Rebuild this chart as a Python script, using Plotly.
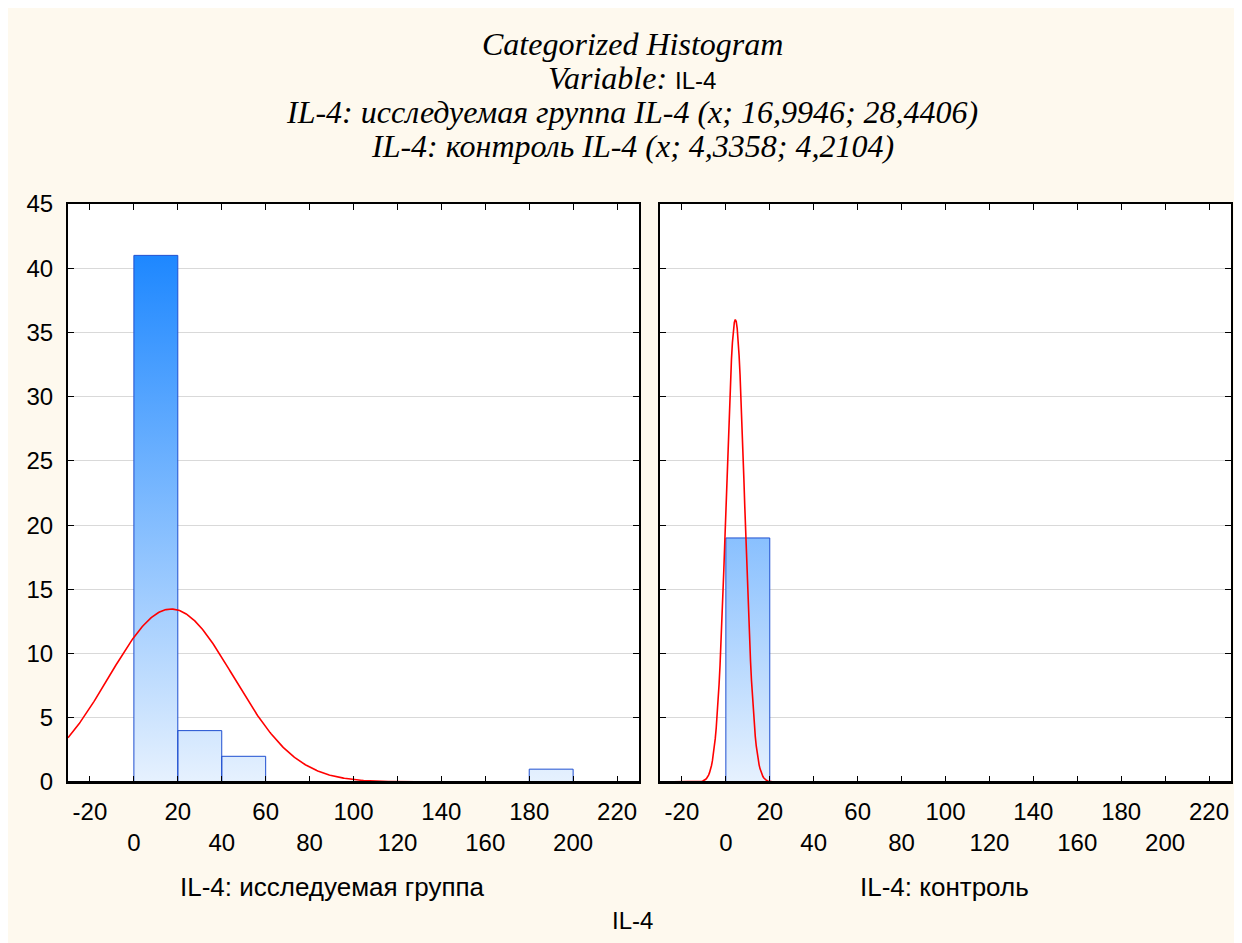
import numpy as np
import plotly.graph_objects as go

# ---------------- data ----------------
bin_edges = [0, 20, 40, 60, 80, 100, 120, 140, 160, 180, 200]
counts_study = [41, 4, 2, 0, 0, 0, 0, 0, 0, 1]      # IL-4: исследуемая группа
counts_control = [19, 0, 0, 0, 0, 0, 0, 0, 0, 0]    # IL-4: контроль
mean_study, sd_study = 16.9946, 28.4406
mean_control, sd_control = 4.3358, 4.2104
x_ticks_row1 = [-20, 20, 60, 100, 140, 180, 220]
x_ticks_row2 = [0, 40, 80, 120, 160, 200]
y_ticks = [0, 5, 10, 15, 20, 25, 30, 35, 40, 45]
x_range = [-30, 230]
y_range = [0, 45]

panel_labels = ["IL-4: исследуемая группа", "IL-4: контроль"]
title_lines = [
    "<i>Categorized Histogram</i>",
    "<i>Variable:</i> <span style='font-family:Liberation Sans, Arial; font-style:normal; font-size:24px'>IL-4</span>",
    "<i>IL-4: исследуемая группа IL-4 (x; 16,9946; 28,4406)</i>",
    "<i>IL-4: контроль IL-4 (x; 4,3358; 4,2104)</i>",
]

CREAM = "#FEF9EE"
SANS = "Liberation Sans, Arial, sans-serif"
SERIF = "Liberation Serif, Times New Roman, serif"

fig = go.Figure()


def bar_polygon(edges, counts):
    xs, ys = [], []
    for i, c in enumerate(counts):
        if c <= 0:
            continue
        x0, x1 = edges[i], edges[i + 1]
        xs += [x0, x0, x1, x1, x0, None]
        ys += [0, c, c, 0, 0, None]
    return xs, ys


def normal_curve(mean, sd, n, width):
    xs = np.linspace(x_range[0], x_range[1], 600)
    ys = n * width / (sd * np.sqrt(2 * np.pi)) * np.exp(-0.5 * ((xs - mean) / sd) ** 2)
    return xs, ys


binw = bin_edges[1] - bin_edges[0]
for counts, mean, sd, xa, ya in [
    (counts_study, mean_study, sd_study, "x", "y"),
    (counts_control, mean_control, sd_control, "x2", "y2"),
]:
    bx, by = bar_polygon(bin_edges, counts)
    fig.add_trace(go.Scatter(
        x=bx, y=by, xaxis=xa, yaxis=ya, mode="lines", fill="toself",
        line=dict(color="#1F4FD0", width=1),
        fillgradient=dict(type="vertical",
                          colorscale=[[0, "#E6F1FE"], [1, "#0A7DFF"]],
                          start=0, stop=45),
        hoverinfo="skip", showlegend=False,
    ))
    cx, cy = normal_curve(mean, sd, sum(counts), binw)
    fig.add_trace(go.Scatter(
        x=cx, y=cy, xaxis=xa, yaxis=ya, mode="lines",
        line=dict(color="#FF0000", width=1.6),
        hoverinfo="skip", showlegend=False,
    ))

all_ticks = sorted(x_ticks_row1 + x_ticks_row2)
row1_text = [str(v) if v in x_ticks_row1 else "" for v in all_ticks]

common_x = dict(
    range=x_range, tickmode="array", tickvals=all_ticks, ticktext=row1_text,
    ticks="inside", ticklen=6, tickwidth=1, tickcolor="black",
    showline=True, linecolor="black", linewidth=2, mirror="ticks",
    showgrid=False, zeroline=False,
    tickfont=dict(family=SANS, size=24, color="black"),
    ticklabelstandoff=7,
)
overlay_x = dict(
    range=x_range, tickmode="array", tickvals=x_ticks_row2,
    ticktext=[str(v) for v in x_ticks_row2],
    ticks="", showline=False, showgrid=False, zeroline=False,
    tickfont=dict(family=SANS, size=24, color="black"),
    ticklabelstandoff=44, side="bottom",
)
common_y = dict(
    range=y_range, tickmode="array", tickvals=y_ticks,
    ticks="inside", ticklen=6, tickwidth=1, tickcolor="black",
    showline=True, linecolor="black", linewidth=2, mirror="ticks",
    showgrid=True, gridcolor="#D9D9D9", gridwidth=1, zeroline=False,
    tickfont=dict(family=SANS, size=24, color="black"),
    ticklabelstandoff=8,
)

left_dom = [0, 0.491]
right_dom = [0.509, 1]

fig.update_layout(
    width=1242, height=943,
    margin=dict(l=60, r=19, t=196, b=169),
    paper_bgcolor=CREAM, plot_bgcolor="white",
    xaxis=dict(domain=left_dom, anchor="y", **common_x),
    xaxis2=dict(domain=right_dom, anchor="y2", **common_x),
    xaxis3=dict(overlaying="x", anchor="y", **overlay_x),
    xaxis4=dict(overlaying="x2", anchor="y2", **overlay_x),
    yaxis=dict(domain=[0, 1], anchor="x", **common_y),
    yaxis2=dict(domain=[0, 1], anchor="x2", showticklabels=False, **common_y),
    showlegend=False,
)

# dummy invisible traces so overlay axes are drawn
for xa, ya in [("x3", "y"), ("x4", "y2")]:
    fig.add_trace(go.Scatter(x=[x_range[0]], y=[0], xaxis=xa, yaxis=ya,
                             mode="markers", marker=dict(opacity=0),
                             hoverinfo="skip", showlegend=False))

# baseline drawn above the traces (hides curve tails lying on the axis)
for xr, yr in [("x domain", "y"), ("x2 domain", "y2")]:
    fig.add_shape(type="line", xref=xr, yref=yr, x0=0, x1=1, y0=0, y1=0,
                  line=dict(color="black", width=2), layer="above")

# title lines
title_y = [1.277, 1.218, 1.159, 1.100]
for txt, yy in zip(title_lines, title_y):
    fig.add_annotation(text=txt, xref="paper", yref="paper", x=0.485, y=yy,
                       xanchor="center", yanchor="middle", showarrow=False,
                       font=dict(family=SERIF, size=32, color="black"))

# panel labels and common axis label
for txt, xx in zip(panel_labels, [0.227, 0.754]):
    fig.add_annotation(text=txt, xref="paper", yref="paper", x=xx, y=-0.1817,
                       xanchor="center", yanchor="middle", showarrow=False,
                       font=dict(family=SANS, size=26, color="black"))
fig.add_annotation(text="IL-4", xref="paper", yref="paper", x=0.485, y=-0.2388,
                   xanchor="center", yanchor="middle", showarrow=False,
                   font=dict(family=SANS, size=24, color="black"))

fig.write_html("out.html")
